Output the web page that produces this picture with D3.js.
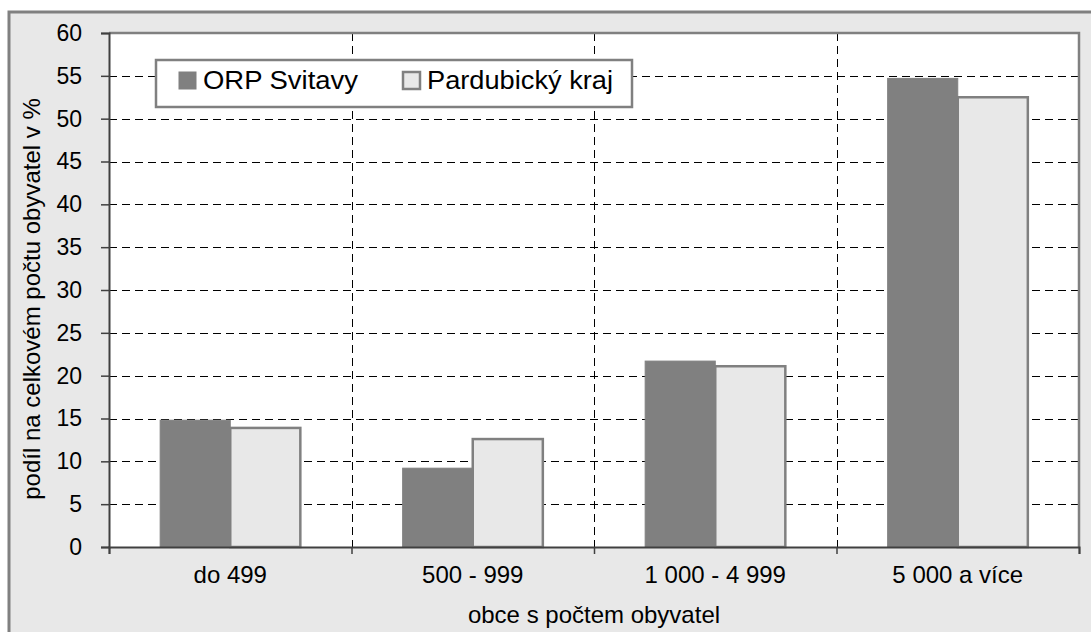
<!DOCTYPE html>
<html><head><meta charset="utf-8">
<script src="https://cdn.jsdelivr.net/npm/d3@7"></script>
<style>
html,body{margin:0;padding:0;background:#fff;}
svg{display:block;font-family:"Liberation Sans",Arial,sans-serif;}
</style></head>
<body>
<svg id="chart" width="1091" height="632"></svg>
<script>
const categories = ["do 499", "500 - 999", "1 000 - 4 999", "5 000 a více"];
const seriesNames = ["ORP Svitavy", "Pardubický kraj"];
const orpSvitavy = [14.8, 9.2, 21.7, 54.7];
const pardubickyKraj = [13.9, 12.6, 21.1, 52.5];
const yTicks = [0, 5, 10, 15, 20, 25, 30, 35, 40, 45, 50, 55, 60];
const xTitle = "obce s počtem obyvatel";
const yTitle = "podíl na celkovém počtu obyvatel v %";

const series = [orpSvitavy, pardubickyKraj];
const fills = ["#808080", "#e8e8e8"];
const strokes = ["#808080", "#808080"];

const svg = d3.select("#chart");
const m = {left: 109, top: 33, right: 1079, bottom: 547};

// outer frame
svg.append("rect").attr("x", 9).attr("y", 12).attr("width", 1100).attr("height", 640)
  .attr("fill", "#e8e8e8").attr("stroke", "#808080").attr("stroke-width", 3);

const x0 = d3.scaleBand().domain(categories).range([m.left, m.right]).padding(0);
const groupW = x0.bandwidth() * 0.578;
const x1 = d3.scaleBand().domain([0, 1]).range([0, groupW]).padding(0);
const y = d3.scaleLinear().domain([0, 60]).range([m.bottom, m.top]);

// plot area
svg.append("rect").attr("x", m.left).attr("y", m.top)
  .attr("width", m.right - m.left).attr("height", m.bottom - m.top).attr("fill", "#fff");

// horizontal gridlines
svg.append("g").selectAll("line").data(yTicks.filter(t => t > 0 && t < 60)).join("line")
  .attr("x1", m.left).attr("x2", m.right)
  .attr("y1", d => Math.round(y(d)) + 0.5).attr("y2", d => Math.round(y(d)) + 0.5)
  .attr("stroke", "#000").attr("stroke-width", 1).attr("stroke-dasharray", "8,5");

// vertical gridlines at category boundaries
svg.append("g").selectAll("line").data(categories.slice(1)).join("line")
  .attr("x1", d => Math.round(x0(d)) + 0.5).attr("x2", d => Math.round(x0(d)) + 0.5)
  .attr("y1", m.top).attr("y2", m.bottom)
  .attr("stroke", "#000").attr("stroke-width", 1).attr("stroke-dasharray", "8,5");

// plot border top/right
svg.append("path")
  .attr("d", `M${m.left},${m.top}H${m.right}V${m.bottom}`)
  .attr("fill", "none").attr("stroke", "#808080").attr("stroke-width", 2.5);

// bars
series.forEach((vals, si) => {
  svg.append("g").selectAll("rect").data(vals).join("rect")
    .attr("x", (d, i) => x0(categories[i]) + (x0.bandwidth() - groupW) / 2 + x1(si))
    .attr("width", x1.bandwidth())
    .attr("y", d => y(d))
    .attr("height", d => y(0) - y(d))
    .attr("fill", fills[si])
    .attr("stroke", strokes[si])
    .attr("stroke-width", si === 0 ? 1 : 2.5);
});

// axes
const yAxis = d3.axisLeft(y).tickValues(yTicks).tickSize(8).tickPadding(19);
const gy = svg.append("g").attr("transform", `translate(${m.left},0)`).call(yAxis);
gy.select(".domain").attr("stroke", "#404040").attr("stroke-width", 2);
gy.selectAll(".tick line").attr("stroke", "#404040").attr("stroke-width", 1.5);
gy.selectAll(".tick text").attr("font-size", 23).attr("fill", "#000").attr("font-family", "Liberation Sans, Arial, sans-serif");

const xb = d3.scaleLinear().domain([0, 4]).range([m.left, m.right]);
const gx = svg.append("g").attr("transform", `translate(0,${m.bottom})`)
  .call(d3.axisBottom(xb).ticks(4).tickSize(7).tickFormat(""));
gx.select(".domain").attr("stroke", "#404040").attr("stroke-width", 2);
gx.selectAll(".tick line").attr("stroke", "#404040").attr("stroke-width", 1.5);

svg.append("g").selectAll("text").data(categories).join("text")
  .attr("x", d => x0(d) + x0.bandwidth() / 2).attr("y", 583)
  .attr("text-anchor", "middle").attr("font-size", 24).attr("fill", "#000")
  .text(d => d);

svg.append("text").attr("x", (m.left + m.right) / 2).attr("y", 623)
  .attr("text-anchor", "middle").attr("font-size", 24).attr("fill", "#000").text(xTitle);

svg.append("text").attr("transform", "translate(40,299) rotate(-90)")
  .attr("text-anchor", "middle").attr("font-size", 24).attr("fill", "#000").text(yTitle);

// legend
const lg = svg.append("g");
lg.append("rect").attr("x", 156).attr("y", 60).attr("width", 476).attr("height", 47)
  .attr("fill", "#fff").attr("stroke", "#808080").attr("stroke-width", 2.5);
const legX = [179, 403];
const legW = [155, 186];
seriesNames.forEach((name, i) => {
  lg.append("rect").attr("x", legX[i]).attr("y", 72).attr("width", 17).attr("height", 17)
    .attr("fill", fills[i]).attr("stroke", strokes[i]).attr("stroke-width", i === 0 ? 1 : 2.5);
  lg.append("text").attr("x", legX[i] + 24).attr("y", 89).attr("font-size", 25)
    .attr("fill", "#000").attr("textLength", legW[i]).attr("lengthAdjust", "spacingAndGlyphs")
    .text(name);
});
</script>
</body></html>
